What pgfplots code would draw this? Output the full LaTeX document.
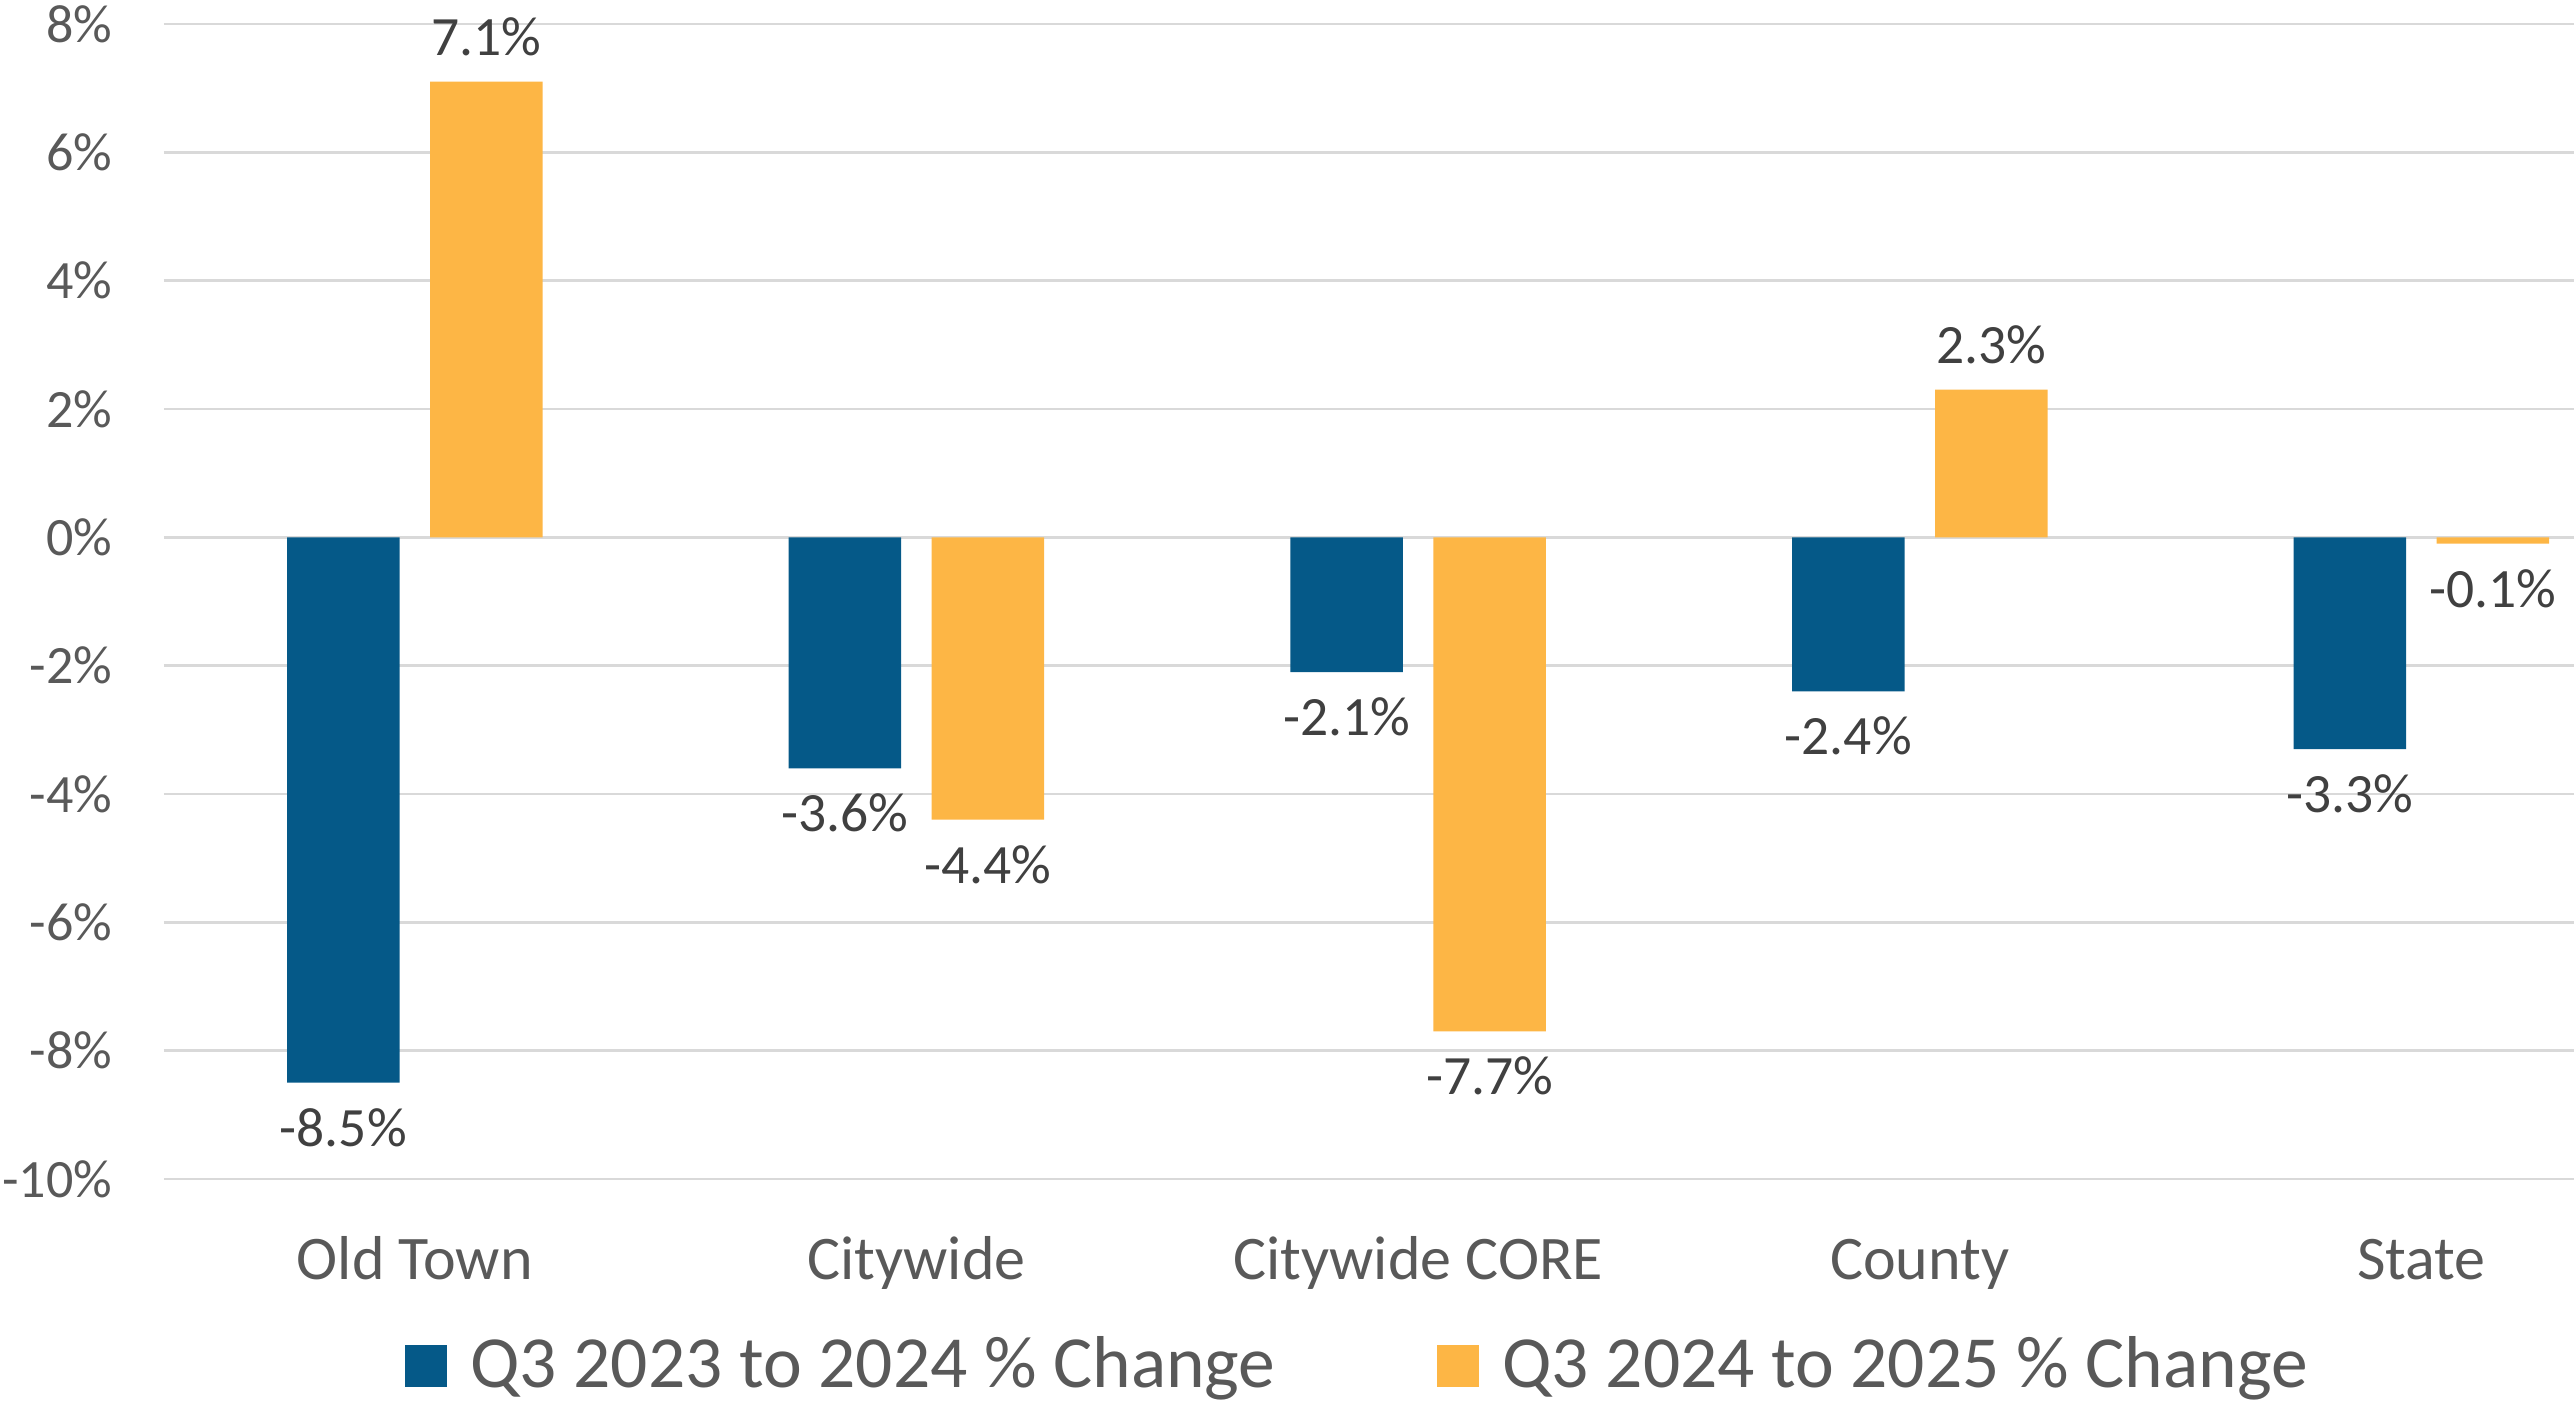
\documentclass[border=0pt]{standalone}
\usepackage{fontspec}
\setmainfont{Carlito}
\usepackage{pgfplots}
\pgfplotsset{compat=1.18}
\definecolor{barblue}{RGB}{5,89,136}
\definecolor{barorange}{RGB}{253,182,69}
\definecolor{ticktext}{RGB}{89,89,89}
\definecolor{labeltext}{RGB}{64,64,64}
\definecolor{gridgray}{RGB}{217,217,217}

\begin{document}
\begin{tikzpicture}
\useasboundingbox (-32.8pt,-45pt) rectangle (482pt,235.8pt);
\begin{axis}[
  at={(0pt,0pt)}, anchor=south west,
  width=482pt, height=231pt, scale only axis,
  xmin=-0.5, xmax=4.304, ymin=-10, ymax=8,
  ybar, bar width=22.5pt,
  axis line style={draw=none},
  major tick length=0pt,
  xtick={0,1,2,3,4},
  xticklabels={Old Town,Citywide,Citywide CORE,County,State},
  ytick={-10,-8,...,8},
  yticklabels={-10\%,-8\%,-6\%,-4\%,-2\%,0\%,2\%,4\%,6\%,8\%},
  ymajorgrids,
  grid style={draw=gridgray, line width=0.55pt},
  yticklabel style={font=\fontsize{10.8}{12}\selectfont, text=ticktext,
    anchor=east, inner sep=0pt, xshift=-10.2pt},
  xticklabel style={font=\fontsize{12.4}{14}\selectfont, text=ticktext,
    anchor=base, inner sep=0pt, yshift=-20.2pt},
  nodes near coords,
  point meta=explicit symbolic,
  visualization depends on={y \as \rawy},
  every node near coord/.append style={font=\fontsize{11.1}{13}\selectfont,
    text=labeltext, inner sep=0pt, anchor=base,
    yshift={ifthenelse(\rawy<0,-12.7,5.2)}},
  legend columns=2,
  legend style={at={(0.4948,0)}, anchor=south, yshift=-42pt,
    draw=none, fill=none, inner sep=0pt,
    font=\fontsize{14.7}{17}\selectfont, text=ticktext,
    column sep=4.6pt,
    /tikz/every even column/.append style={column sep=32.4pt},
    nodes={inner sep=0pt, text depth=0pt}},
]
\addplot[fill=barblue, draw=none, bar shift=-14.3pt,
  legend image code/.code={\fill[barblue] (0pt,-4.9pt) rectangle (8.4pt,3.5pt);}]
  coordinates {(0,-8.5) [-8.5\%] (1,-3.6) [-3.6\%] (2,-2.1) [-2.1\%]
               (3,-2.4) [-2.4\%] (4,-3.3) [-3.3\%]};
\addlegendentry{Q3 2023 to 2024 \% Change}
\addplot[fill=barorange, draw=none, bar shift=14.3pt,
  legend image code/.code={\fill[barorange] (0pt,-4.9pt) rectangle (8.4pt,3.5pt);}]
  coordinates {(0,7.1) [7.1\%] (1,-4.4) [-4.4\%] (2,-7.7) [-7.7\%]
               (3,2.3) [2.3\%] (4,-0.1) [-0.1\%]};
\addlegendentry{Q3 2024 to 2025 \% Change}
\end{axis}
\end{tikzpicture}
\end{document}
